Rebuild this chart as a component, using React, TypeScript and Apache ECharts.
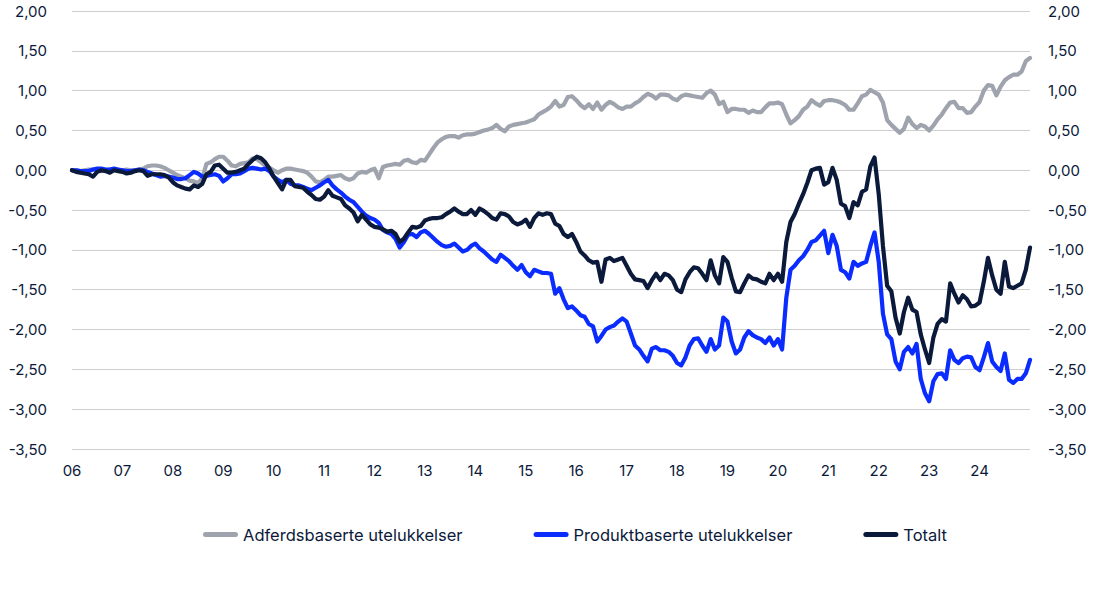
import React, { useEffect, useRef } from "react";
import * as echarts from "echarts";

// Monthly observations, Jan 2006 .. Jan 2025
const years = [2006,2007,2008,2009,2010,2011,2012,2013,2014,2015,2016,2017,2018,2019,2020,2021,2022,2023,2024];
const months: string[] = [];
years.forEach((y) => { for (let m = 1; m <= 12; m++) months.push(`${y}-${String(m).padStart(2, "0")}`); });
months.push("2025-01");

const seriesNames = ["Adferdsbaserte utelukkelser", "Produktbaserte utelukkelser", "Totalt"];

const adferd = [
  0, 0.0, -0.01, 0.0, 0.01, 0.01, 0.0, -0.01, 0.0, 0.01, 0.0, 0.0,
  0.0, 0.01, 0.0, 0.0, 0.01, 0.02, 0.05, 0.06, 0.06, 0.05, 0.03, 0.0,
  -0.03, -0.06, -0.08, -0.1, -0.13, -0.14, -0.16, -0.1, 0.08, 0.1, 0.14, 0.17,
  0.17, 0.12, 0.06, 0.05, 0.08, 0.09, 0.1, 0.15, 0.14, 0.1, 0.06, 0.03,
  0.0, -0.03, 0.0, 0.02, 0.02, 0.01, 0.0, -0.01, -0.03, -0.08, -0.14, -0.15,
  -0.12, -0.08, -0.08, -0.07, -0.06, -0.1, -0.12, -0.1, -0.04, -0.02, -0.03, 0.0,
  0.02, -0.1, 0.04, 0.06, 0.07, 0.08, 0.07, 0.12, 0.13, 0.1, 0.09, 0.13,
  0.12, 0.2, 0.28, 0.35, 0.39, 0.42, 0.43, 0.43, 0.41, 0.44, 0.45, 0.45,
  0.46, 0.48, 0.5, 0.51, 0.53, 0.57, 0.52, 0.49, 0.55, 0.57, 0.58, 0.59,
  0.6, 0.62, 0.64, 0.7, 0.73, 0.76, 0.8, 0.87, 0.8, 0.82, 0.92, 0.93,
  0.88, 0.82, 0.78, 0.83, 0.77, 0.85, 0.76, 0.82, 0.86, 0.83, 0.79, 0.77,
  0.8, 0.8, 0.84, 0.87, 0.92, 0.96, 0.94, 0.9, 0.95, 0.95, 0.94, 0.9,
  0.88, 0.93, 0.95, 0.94, 0.93, 0.92, 0.91, 0.97, 1.0, 0.95, 0.83, 0.86,
  0.73, 0.77, 0.77, 0.76, 0.76, 0.72, 0.75, 0.73, 0.73, 0.79, 0.84, 0.84,
  0.85, 0.83, 0.7, 0.59, 0.63, 0.68, 0.76, 0.8, 0.88, 0.84, 0.81, 0.87,
  0.88, 0.88, 0.87, 0.85, 0.82, 0.76, 0.76, 0.84, 0.93, 0.95, 1.01, 0.98,
  0.95, 0.85, 0.63, 0.57, 0.52, 0.47, 0.52, 0.66, 0.58, 0.53, 0.57, 0.55,
  0.5, 0.56, 0.64, 0.7, 0.78, 0.85, 0.86, 0.78, 0.78, 0.72, 0.73, 0.8,
  0.86, 1.0, 1.07, 1.06, 0.94, 1.05, 1.13, 1.17, 1.2, 1.2, 1.24, 1.37,
  1.41,
];

const produkt = [
  0, 0, -0.01, -0.01, -0.01, 0.01, 0.02, 0.02, 0.01, 0.01, 0.02, 0.01,
  0.0, -0.01, -0.01, 0.0, 0.01, 0.0, -0.02, -0.04, -0.06, -0.08, -0.07, -0.08,
  -0.09, -0.11, -0.11, -0.1, -0.06, -0.02, -0.04, -0.08, -0.07, -0.06, -0.05, -0.07,
  -0.14, -0.1, -0.05, -0.05, -0.04, -0.01, 0.02, 0.03, 0.02, 0.01, 0.02, -0.01,
  -0.08, -0.12, -0.15, -0.12, -0.17, -0.19, -0.19, -0.21, -0.23, -0.25, -0.22, -0.19,
  -0.15, -0.12, -0.19, -0.24, -0.28, -0.33, -0.37, -0.4, -0.46, -0.52, -0.57, -0.6,
  -0.62, -0.66, -0.75, -0.78, -0.8, -0.86, -0.97, -0.9, -0.81, -0.8, -0.84, -0.78,
  -0.76, -0.8, -0.85, -0.9, -0.94, -0.96, -0.95, -0.92, -0.97, -1.02, -1.0, -0.95,
  -0.92, -0.98, -1.02, -1.07, -1.12, -1.15, -1.06, -1.1, -1.14, -1.2, -1.25, -1.19,
  -1.28, -1.33, -1.25, -1.27, -1.29, -1.29, -1.3, -1.55, -1.48, -1.62, -1.73, -1.71,
  -1.76, -1.82, -1.84, -1.93, -1.96, -2.15, -2.08, -2.0, -1.97, -1.95, -1.9, -1.86,
  -1.9, -2.05, -2.2, -2.25, -2.33, -2.4, -2.24, -2.22, -2.26, -2.26, -2.28, -2.33,
  -2.42, -2.45, -2.35, -2.2, -2.12, -2.11, -2.2, -2.28, -2.12, -2.25, -2.2, -1.85,
  -1.9, -2.15, -2.3, -2.25, -2.1, -2.02, -2.07, -2.1, -2.12, -2.17, -2.1, -2.2,
  -2.12, -2.25, -1.6, -1.25, -1.2, -1.13, -1.08, -1.0, -0.9, -0.88, -0.82, -0.76,
  -1.04, -0.81, -0.95, -1.25, -1.28, -1.36, -1.15, -1.2, -1.17, -1.15, -0.95, -0.78,
  -1.15, -1.8, -2.06, -2.12, -2.4, -2.5, -2.28, -2.22, -2.3, -2.18, -2.62, -2.8,
  -2.9, -2.65, -2.56, -2.55, -2.62, -2.26, -2.38, -2.42, -2.36, -2.34, -2.35, -2.47,
  -2.51, -2.35, -2.17, -2.4, -2.47, -2.52, -2.3, -2.63, -2.67, -2.62, -2.62, -2.55,
  -2.38,
];

const totalt = [
  0, -0.02, -0.03, -0.04, -0.05, -0.08, -0.02, 0.0, -0.01, -0.03, 0.0, -0.01,
  -0.02, -0.04, -0.03, -0.01, 0.0, -0.01, -0.07, -0.05, -0.05, -0.05, -0.06, -0.09,
  -0.15, -0.19, -0.21, -0.23, -0.24, -0.19, -0.21, -0.17, -0.05, -0.02, 0.06, 0.07,
  0.02, -0.03, -0.03, -0.02, 0.0, 0.02, 0.08, 0.13, 0.17, 0.15, 0.1, 0.02,
  -0.08, -0.16, -0.24, -0.12, -0.12, -0.2, -0.21, -0.22, -0.27, -0.31, -0.36, -0.37,
  -0.33, -0.25, -0.32, -0.34, -0.36, -0.44, -0.48, -0.53, -0.64, -0.56, -0.62, -0.68,
  -0.71, -0.72, -0.74, -0.77, -0.76, -0.8, -0.9, -0.86, -0.78, -0.71, -0.72, -0.7,
  -0.63, -0.61, -0.6, -0.6, -0.59, -0.55, -0.52, -0.48, -0.52, -0.55, -0.55, -0.5,
  -0.56, -0.48, -0.51, -0.55, -0.6, -0.62, -0.54, -0.55, -0.58, -0.65, -0.68, -0.66,
  -0.62, -0.71, -0.6, -0.54, -0.56, -0.54, -0.55, -0.67, -0.7, -0.8, -0.84, -0.8,
  -0.9, -1.02, -1.07, -1.13, -1.16, -1.15, -1.4, -1.12, -1.1, -1.14, -1.12, -1.1,
  -1.2, -1.3, -1.37, -1.38, -1.39, -1.48, -1.38, -1.3, -1.38, -1.3, -1.32, -1.38,
  -1.5, -1.53, -1.37, -1.28, -1.22, -1.23, -1.3, -1.38, -1.13, -1.32, -1.42, -1.09,
  -1.15, -1.35, -1.52, -1.53, -1.42, -1.32, -1.36, -1.37, -1.4, -1.42, -1.3, -1.38,
  -1.3, -1.4, -0.9, -0.65, -0.55, -0.42, -0.3, -0.16, 0.0, 0.02, 0.03, -0.18,
  -0.15, 0.03, -0.12, -0.42, -0.45, -0.6, -0.4, -0.44, -0.27, -0.24, 0.05, 0.16,
  -0.3, -0.95, -1.45, -1.52, -1.85, -2.05, -1.78, -1.6, -1.75, -1.78, -2.06, -2.25,
  -2.42, -2.1, -1.93, -1.87, -1.9, -1.42, -1.55, -1.66, -1.57, -1.62, -1.71, -1.7,
  -1.66, -1.4, -1.1, -1.32, -1.5, -1.55, -1.15, -1.46, -1.48, -1.45, -1.42, -1.25,
  -0.97,
];

const colors = ["#9ea3ad", "#0a2cff", "#0b1a3a"];
const textColor = "#0b1a3a";
const font = "Inter";

const fmt = (v: number) => v.toFixed(2).replace(".", ",");

export default function App() {
  const ref = useRef<HTMLDivElement>(null);
  useEffect(() => {
    if (!ref.current) return;
    const chart = echarts.init(ref.current, undefined, { renderer: "svg" });
    const yBase = {
      type: "value" as const,
      min: -3.5,
      max: 2,
      interval: 0.5,
      axisLine: { show: false },
      axisTick: { show: false },
    };
    const values = [adferd, produkt, totalt];
    chart.setOption({
      animation: false,
      backgroundColor: "#ffffff",
      textStyle: { fontFamily: font },
      grid: { left: 72, right: 69, top: 11, bottom: 160, containLabel: false },
      xAxis: {
        type: "category",
        data: months,
        boundaryGap: false,
        axisLine: { show: false },
        axisTick: { show: false },
        splitLine: { show: false },
        axisLabel: {
          interval: (i: number) => i % 12 === 0 && i < months.length - 1,
          formatter: (v: string) => v.slice(2, 4),
          color: textColor,
          fontSize: 15,
          fontFamily: font,
          margin: 14,
        },
      },
      yAxis: [
        {
          ...yBase,
          position: "left",
          splitLine: { show: true, lineStyle: { color: "#cfcfcf", width: 1 } },
          axisLabel: { formatter: fmt, color: textColor, fontSize: 15, fontFamily: font, margin: 25 },
        },
        {
          ...yBase,
          position: "right",
          splitLine: { show: false },
          axisLabel: { formatter: fmt, color: textColor, fontSize: 15, fontFamily: font, margin: 18 },
        },
      ],
      legend: {
        left: 198,
        top: 521,
        itemWidth: 35,
        itemHeight: 5,
        itemGap: 71,
        icon: "path://M2.5,0 L32.5,0 A2.5,2.5 0 0 1 32.5,5 L2.5,5 A2.5,2.5 0 0 1 2.5,0 Z",
        textStyle: { color: textColor, fontSize: 16.5, fontFamily: font, padding: 0 },
        data: seriesNames,
      },
      series: seriesNames.map((name, k) => ({
        name,
        type: "line",
        data: values[k],
        showSymbol: false,
        symbol: "none",
        color: colors[k],
        lineStyle: { width: 4.2, color: colors[k], cap: "round", join: "round" },
        z: 2 + k,
      })),
    });
    return () => chart.dispose();
  }, []);
  return <div ref={ref} style={{ position: "absolute", left: 0, top: 0, width: 1099, height: 609 }} />;
}
